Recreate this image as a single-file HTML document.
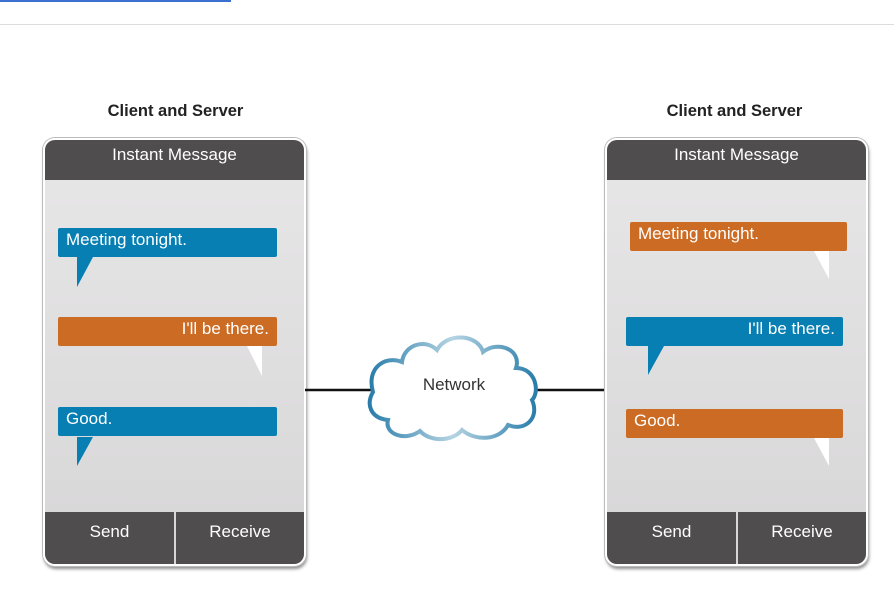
<!DOCTYPE html>
<html><head><style>
body{margin:0;width:894px;height:599px;background:#fff;position:relative;overflow:hidden;font-family:"Liberation Sans",Arial,sans-serif}
.a{position:absolute}
.title{font-weight:bold;font-size:16.5px;color:#222;text-align:center;width:263px}
.phone{width:259px;height:424px;border:2px solid #fff;border-radius:12px;box-shadow:0 0 0 1px #bbb,1px 3px 3px rgba(0,0,0,.45);overflow:hidden;background:linear-gradient(#e8e7e8,#d7d6d7)}
.hdr{left:0;top:0;width:259px;height:40px;background:#4f4d4e;color:#fff;font-size:17px;text-align:center;line-height:30px}
.btn{top:372px;height:55px;background:#4f4d4e;color:#fff;font-size:17px;text-align:center;line-height:40px}
.b{height:29px;border-radius:2px;color:#fff;font-size:17px;line-height:24px;padding:0 8px;box-sizing:border-box}
.blue{background:#077fb3}.or{background:#cc6b24}
</style></head><body>
<div class="a" style="left:0;top:0;width:231px;height:2px;background:#3b6fd0"></div>
<div class="a" style="left:0;top:24px;width:894px;height:1px;background:#ddd"></div>

<div class="a title" style="left:44px;top:102px">Client and Server</div>
<div class="a title" style="left:603px;top:102px">Client and Server</div>

<div class="a phone" style="left:43px;top:138px">
 <div class="a hdr">Instant Message</div>
 <div class="a btn" style="left:0;width:129px">Send</div>
 <div class="a btn" style="left:131px;width:128px">Receive</div>
</div>
<div class="a phone" style="left:605px;top:138px">
 <div class="a hdr">Instant Message</div>
 <div class="a btn" style="left:0;width:129px">Send</div>
 <div class="a btn" style="left:131px;width:128px">Receive</div>
</div>

<div class="a b blue" style="left:58px;top:228px;width:219px">Meeting tonight.</div>
<div class="a b or" style="left:58px;top:317px;width:219px;text-align:right">I'll be there.</div>
<div class="a b blue" style="left:58px;top:407px;width:219px">Good.</div>
<div class="a b or" style="left:630px;top:222px;width:217px">Meeting tonight.</div>
<div class="a b blue" style="left:626px;top:317px;width:217px;text-align:right">I'll be there.</div>
<div class="a b or" style="left:626px;top:409px;width:217px">Good.</div>

<svg class="a" style="left:0;top:0" width="894" height="599">
 <polygon points="77,257 93,257 77,287" fill="#077fb3"/>
 <polygon points="247,346 262,346 262,376" fill="#fff"/>
 <polygon points="77,437 93,437 77,466" fill="#077fb3"/>
 <polygon points="814,251 829,251 829,279" fill="#fff"/>
 <polygon points="648,346 664,346 648,375" fill="#077fb3"/>
 <polygon points="814,438 829,438 829,466" fill="#fff"/>
 <line x1="305" y1="390" x2="372" y2="390" stroke="#111" stroke-width="2.5"/>
 <line x1="536" y1="390" x2="604" y2="390" stroke="#111" stroke-width="2.5"/>
 <defs><linearGradient id="g" x1="0" x2="1"><stop offset="0" stop-color="#2a7daa"/><stop offset=".5" stop-color="#b5d4e3"/><stop offset="1" stop-color="#2a7daa"/></linearGradient></defs>
 <path d="M373,392 C366,368 385,355 402,362 C404,345 425,338 437,350 C447,332 478,334 483,352 C498,340 522,350 516,368 C536,368 540,392 532,400 C540,418 525,432 508,425 C500,440 476,442 462,430 C452,442 430,442 420,431 C405,442 384,434 388,420 C370,418 366,404 373,392 Z" fill="#fff" stroke="url(#g)" stroke-width="4"/>
 <text x="454" y="390" font-family="Liberation Sans,Arial,sans-serif" font-size="17" fill="#333" text-anchor="middle">Network</text>
</svg>
</body></html>
